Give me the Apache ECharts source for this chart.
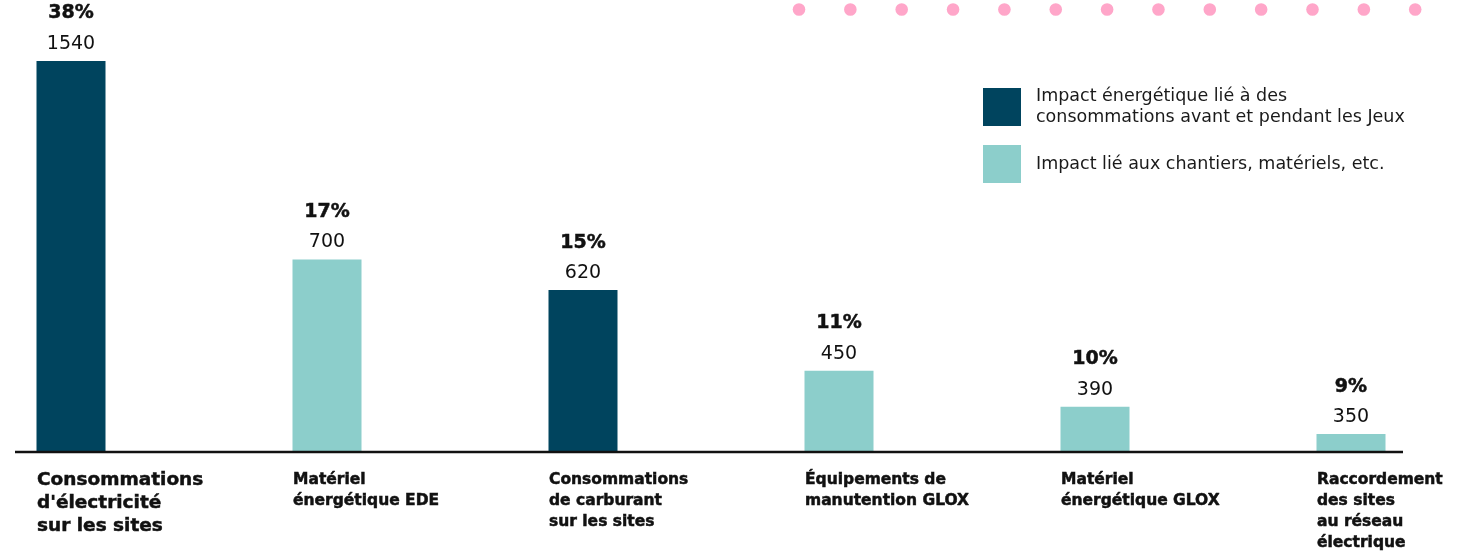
<!DOCTYPE html>
<html>
<head>
<meta charset="utf-8">
<script src="https://cdn.jsdelivr.net/npm/echarts@6/dist/echarts.min.js"></script>
<style>
html,body{margin:0;padding:0;background:#fff;overflow:hidden;}
#chart{width:1474px;height:556px;}
</style>
</head>
<body>
<div id="chart"></div>
<script>
// ---- data ----
const categories = [
  "Consommations\nd'électricité\nsur les sites",
  "Matériel\nénergétique EDE",
  "Consommations\nde carburant\nsur les sites",
  "Équipements de\nmanutention GLOX",
  "Matériel\nénergétique GLOX",
  "Raccordement\ndes sites\nau réseau\nélectrique"
];
const values = [1540, 700, 620, 450, 390, 350];
const percents = [38, 17, 15, 11, 10, 9];
const groupOf = ["energy", "works", "energy", "works", "works", "works"];
const seriesNames = {
  energy: "Impact énergétique lié à des\nconsommations avant et pendant les Jeux",
  works: "Impact lié aux chantiers, matériels, etc."
};
const colors = { energy: "#00445e", works: "#8ccecb" };

const FONT = "'DejaVu Sans', sans-serif";
const HEAVY = { fontFamily: FONT, fontWeight: 'bold', color: '#111', textBorderColor: '#111', textBorderWidth: 0.5 };

function seriesData(group) {
  return values.map((v, i) => groupOf[i] === group ? v : '-');
}

const chart = echarts.init(document.getElementById('chart'), null, { renderer: 'canvas' });

const barLabel = {
  show: true,
  position: 'top',
  distance: 1.5,
  formatter: p => '{p|' + percents[p.dataIndex] + '%}\n{v|' + values[p.dataIndex] + '}',
  rich: {
    p: Object.assign({}, HEAVY, { fontSize: 19, lineHeight: 30, align: 'center' }),
    v: { fontFamily: FONT, fontSize: 19, fontWeight: 'normal', color: '#111', lineHeight: 31, align: 'center' }
  }
};

// decorative dots
const dots = [];
for (let i = 0; i < 13; i++) {
  dots.push({ type: 'circle', shape: { cx: 799 + i * 51.35, cy: 9.5, r: 6.3 }, style: { fill: '#ffa6c9' }, silent: true });
}

chart.setOption({
  backgroundColor: '#ffffff',
  animation: false,
  grid: { left: -57, right: -5, top: 61, bottom: 104, containLabel: false, outerBoundsMode: 'none' },
  legend: {
    orient: 'vertical',
    left: 983,
    top: 86,
    padding: 0,
    itemWidth: 38,
    itemHeight: 38,
    itemGap: 17,
    icon: 'rect',
    selectedMode: false,
    data: [seriesNames.energy, seriesNames.works],
    textStyle: { fontFamily: FONT, fontSize: 17.5, lineHeight: 21, color: '#1a1a1a', padding: [0, 0, 0, 10] }
  },
  xAxis: {
    type: 'category',
    data: categories,
    axisLine: { show: false },
    axisTick: { show: false },
    axisLabel: {
      interval: 0,
      margin: 17,
      align: 'left',
      verticalAlign: 'top',
      padding: [0, 0, 0, -34],
      formatter: (val, idx) => {
        const tag = idx === 0 ? 'big' : 'n';
        return val.split('\n').map(s => '{' + tag + '|' + s + '}').join('\n');
      },
      rich: {
        big: Object.assign({}, HEAVY, { fontSize: 18.5, lineHeight: 23, align: 'left' }),
        n: Object.assign({}, HEAVY, { fontSize: 15.5, lineHeight: 21, align: 'left' })
      }
    }
  },
  yAxis: {
    type: 'log',
    logBase: 10,
    min: 326,
    max: 1540,
    show: false,
    splitLine: { show: false }
  },
  series: [
    {
      name: seriesNames.energy,
      type: 'bar',
      data: seriesData('energy'),
      barWidth: 69,
      barGap: '-100%',
      clip: true,
      itemStyle: { color: colors.energy },
      label: barLabel
    },
    {
      name: seriesNames.works,
      type: 'bar',
      data: seriesData('works'),
      barWidth: 69,
      barGap: '-100%',
      clip: true,
      itemStyle: { color: colors.works },
      label: barLabel
    }
  ],
  graphic: dots.concat([
    { type: 'line', shape: { x1: 15, y1: 452, x2: 1403, y2: 452 }, style: { stroke: '#111', lineWidth: 2.5 }, silent: true, z: 100 }
  ])
});
</script>
</body>
</html>
